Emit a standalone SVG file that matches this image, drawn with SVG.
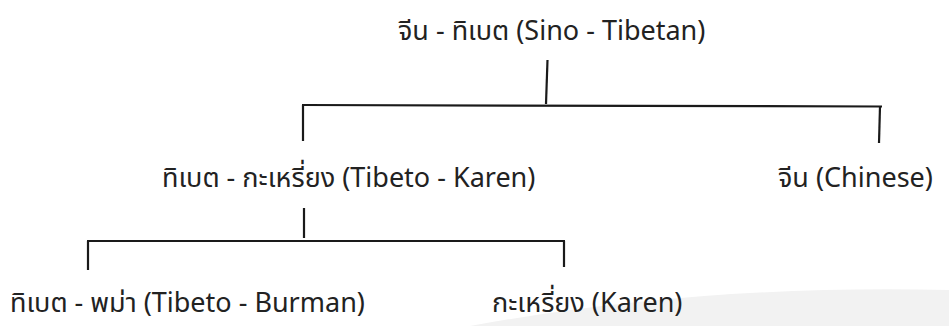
<svg xmlns="http://www.w3.org/2000/svg" width="949" height="326" viewBox="0 0 949 326">
<style>
.t{font-family:"Noto Sans Thai","Noto Sans","DejaVu Sans",sans-serif;font-size:27px;fill:#222222}
.c{stroke:#1a1a1a;stroke-width:2.2;fill:none;stroke-linecap:butt}
</style>
<rect width="949" height="326" fill="#ffffff"/>
<path d="M470 326 Q700 284 949 290 L949 326 Z" fill="#f2f2f2"/>
<g id="connectors">
<line class="c" x1="547.5" y1="60" x2="546" y2="104"/>
<line class="c" x1="302" y1="105" x2="882" y2="106.5"/>
<line class="c" x1="303" y1="105" x2="303" y2="141"/>
<line class="c" x1="880" y1="106.5" x2="879" y2="143"/>
<line class="c" x1="304" y1="208" x2="304" y2="238"/>
<line class="c" x1="87" y1="241" x2="565" y2="241"/>
<line class="c" x1="88" y1="241" x2="88" y2="270"/>
<line class="c" x1="564" y1="241" x2="564" y2="267"/>
</g>
<g id="sino-tibetan"><text class="t" x="398" y="40">จีน - ทิเบต (Sino - Tibetan)</text></g>
<g id="tibeto-karen"><text class="t" x="162" y="187">ทิเบต - กะเหรี่ยง (Tibeto - Karen)</text></g>
<g id="chinese"><text class="t" x="778" y="187">จีน (Chinese)</text></g>
<g id="tibeto-burman"><text class="t" x="10" y="312">ทิเบต - พม่า (Tibeto - Burman)</text></g>
<g id="karen"><text class="t" x="492" y="312">กะเหรี่ยง (Karen)</text></g>
</svg>
